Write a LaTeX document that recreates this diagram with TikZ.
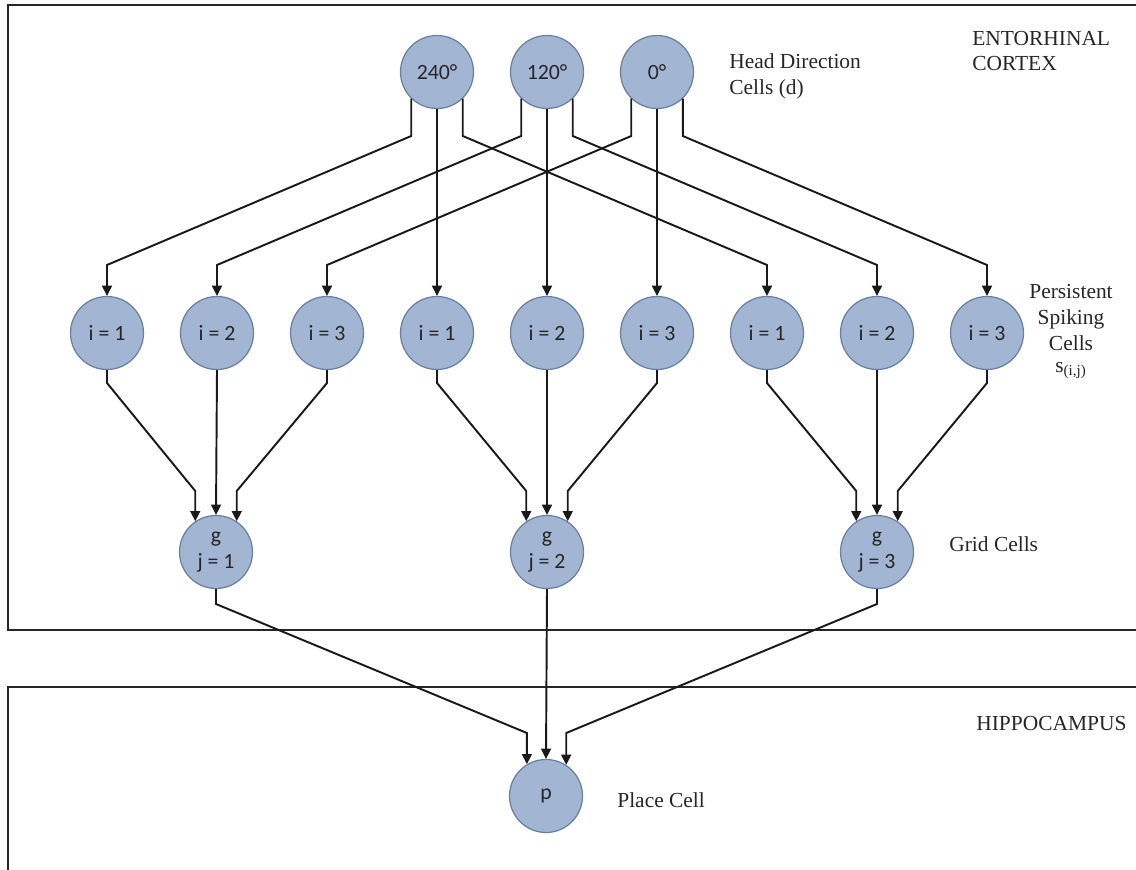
\documentclass[tikz,border=0pt]{standalone}
\usepackage{fontspec}
\setmainfont{Liberation Serif}
\newfontfamily\cellfont{Carlito}
\usetikzlibrary{arrows.meta}
\definecolor{cellfill}{RGB}{162,181,210}
\definecolor{celldraw}{RGB}{105,128,162}
\definecolor{celltext}{RGB}{38,38,38}
\definecolor{linec}{RGB}{25,25,25}
\tikzset{
  cell/.style={circle, fill=cellfill, draw=celldraw, line width=0.7pt,
    minimum size=1.46cm, inner sep=0pt, text=celltext,
    font=\cellfont\fontsize{12.4}{14.4}\selectfont, align=center},
  lbl/.style={anchor=base west, inner sep=0pt, text=black!85,
    font=\fontsize{12.2}{14.8}\selectfont},
  lblc/.style={lbl, anchor=base},
  conn/.style={draw=linec, line width=1.1pt, line join=miter,
    -{Triangle[length=5.8pt,width=5.6pt]}},
  region/.style={draw=black!85, line width=1.1pt}
}
\begin{document}
\begin{tikzpicture}[x=0.02cm,y=-0.02cm]
\useasboundingbox (0,0) rectangle (1136,869);
% regions
\draw[region] (1140,5) -- (8,5) -- (8,630) -- (1140,630);
\draw[region] (1140,687) -- (8,687) -- (8,875);
% row levels
\coordinate (kA) at (0,136);
\coordinate (kB) at (0,265);
\coordinate (kC) at (0,383);
\coordinate (kD) at (0,491);
\coordinate (kE) at (0,604);
\coordinate (kF) at (0,733);
% head direction cells
\node[cell] (h240) at (437,72) {240°};
\node[cell] (h120) at (547,72) {120°};
\node[cell] (h0)   at (657,72) {0°};
% persistent spiking cells
\node[cell] (s11) at (107,333) {i = 1};
\node[cell] (s21) at (217,333) {i = 2};
\node[cell] (s31) at (327,333) {i = 3};
\node[cell] (s12) at (437,333) {i = 1};
\node[cell] (s22) at (547,333) {i = 2};
\node[cell] (s32) at (657,333) {i = 3};
\node[cell] (s13) at (767,333) {i = 1};
\node[cell] (s23) at (877,333) {i = 2};
\node[cell] (s33) at (987,333) {i = 3};
% grid cells
\node[cell] (g1) at (216,552) {g\\j = 1};
\node[cell] (g2) at (547,552) {g\\j = 2};
\node[cell] (g3) at (877,552) {g\\j = 3};
% place cell
\node[cell] (p) at (546,796) {p};
% labels
\node[lbl] (tEC1) at (972,45) {ENTORHINAL};
\node[lbl] (tEC2) at (972,70) {CORTEX};
\node[lbl] (tHD1) at (729,68) {Head Direction};
\node[lbl] (tHD2) at (729,94) {Cells (d)};
\node[lblc] (tPS1) at (1071,298) {Persistent};
\node[lblc] (tPS2) at (1071,324) {Spiking};
\node[lblc] (tPS3) at (1071,350) {Cells};
\node[lblc] (tPS4) at (1071,372) {s\textsubscript{(i,j)}};
\node[lbl] (tGC) at (949,551) {Grid Cells};
\node[lbl] (tHC) at (976,730) {HIPPOCAMPUS};
\node[lbl] (tPC) at (617,807) {Place Cell};
% head direction -> persistent spiking
\draw[conn] (h240.226) -- (h240.226 |- kA) -- (s11 |- kB) -- (s11.north);
\draw[conn] (h240.south) -- (s12.north);
\draw[conn] (h240.314) -- (h240.314 |- kA) -- (s13 |- kB) -- (s13.north);
\draw[conn] (h120.226) -- (h120.226 |- kA) -- (s21 |- kB) -- (s21.north);
\draw[conn] (h120.south) -- (s22.north);
\draw[conn] (h120.314) -- (h120.314 |- kA) -- (s23 |- kB) -- (s23.north);
\draw[conn] (h0.226) -- (h0.226 |- kA) -- (s31 |- kB) -- (s31.north);
\draw[conn] (h0.south) -- (s32.north);
\draw[conn] (h0.314) -- (h0.314 |- kA) -- (s33 |- kB) -- (s33.north);
% persistent spiking -> grid
\draw[conn] (s11.south) -- (s11.south |- kC) -- (g1.124 |- kD) -- (g1.124);
\draw[conn] (s21.south) -- (g1.north);
\draw[conn] (s31.south) -- (s31.south |- kC) -- (g1.56 |- kD) -- (g1.56);
\draw[conn] (s12.south) -- (s12.south |- kC) -- (g2.124 |- kD) -- (g2.124);
\draw[conn] (s22.south) -- (g2.north);
\draw[conn] (s32.south) -- (s32.south |- kC) -- (g2.56 |- kD) -- (g2.56);
\draw[conn] (s13.south) -- (s13.south |- kC) -- (g3.124 |- kD) -- (g3.124);
\draw[conn] (s23.south) -- (g3.north);
\draw[conn] (s33.south) -- (s33.south |- kC) -- (g3.56 |- kD) -- (g3.56);
% grid -> place
\draw[conn] (g1.south) -- (g1.south |- kE) -- (p.121 |- kF) -- (p.121);
\draw[conn] (g2.south) -- (p.north);
\draw[conn] (g3.south) -- (g3.south |- kE) -- (p.57 |- kF) -- (p.57);
\end{tikzpicture}
\end{document}
